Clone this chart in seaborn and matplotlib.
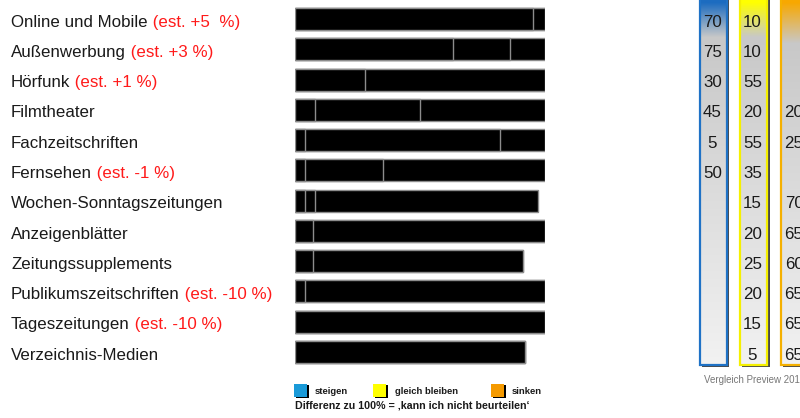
import numpy as np
import pandas as pd
import matplotlib
matplotlib.use("Agg")
import matplotlib.pyplot as plt
import seaborn as sns
from matplotlib.patches import Rectangle
from matplotlib.colors import to_rgb
from matplotlib.transforms import blended_transform_factory

# ---------------- data ----------------
media = ["Online und Mobile", "Außenwerbung", "Hörfunk", "Filmtheater",
         "Fachzeitschriften", "Fernsehen", "Wochen-Sonntagszeitungen",
         "Anzeigenblätter", "Zeitungssupplements", "Publikumszeitschriften",
         "Tageszeitungen", "Verzeichnis-Medien"]
estimates = ["(est. +5  %)", "(est. +3 %)", "(est. +1 %)", "", "", "(est. -1 %)",
             "", "", "", "(est. -10 %)", "(est. -10 %)", ""]
# stacked bar segments (percent)
seg1 = [95, 63, 28, 8, 4, 4, 4, 7, 7, 4, 100, 92]
seg2 = [5, 23, 72, 42, 78, 31, 4, 93, 84, 96, 0, 0]
seg3 = [0, 14, 0, 50, 18, 65, 89, 0, 0, 0, 0, 0]
# comparison table
steigen = [70, 75, 30, 45, 5, 50, None, None, None, None, None, None]
gleich = [10, 10, 55, 20, 55, 35, 15, 20, 25, 20, 15, 5]
sinken = [None, None, None, 20, 25, None, 70, 65, 60, 65, 65, 65]

# ---------------- style ----------------
sns.set_theme(style="white")
plt.rcParams["font.family"] = ["Liberation Sans", "DejaVu Sans"]

W, H = 800, 418
FS = 12.2
fig = plt.figure(figsize=(W / 100, H / 100), dpi=100)

ov = fig.add_axes([0, 0, 1, 1])
ov.set_xlim(0, W)
ov.set_ylim(H, 0)
ov.axis("off")

top_px, bot_px = 3.86, 367.1
ax = fig.add_axes([295 / W, 1 - bot_px / H, 250 / W, (bot_px - top_px) / H])
ax.patch.set_alpha(0)

df = pd.DataFrame({"medium": media, "s1": seg1, "s2": seg2, "s3": seg3})
df["c1"] = df["s1"]
df["c2"] = df["s1"] + df["s2"]
df["c3"] = df["s1"] + df["s2"] + df["s3"]

for col in ["c3", "c2", "c1"]:
    sns.barplot(data=df, x=col, y="medium", orient="h", color="black",
                saturation=1, edgecolor="#8c8c8c", linewidth=1.0,
                width=0.727, errorbar=None, ax=ax)
ax.set_xlim(0, 100)
ax.set_ylim(11.5, -0.5)
ax.axis("off")

# ---------------- labels ----------------
lab_tr = blended_transform_factory(fig.transFigure, ax.transData)
base_off = 0.254
name_texts = []
for i, name in enumerate(media):
    t = fig.text(11 / W, i + base_off, name, transform=lab_tr, ha="left",
                 va="baseline", fontsize=FS, color="#1a1a1a")
    name_texts.append(t)
fig.canvas.draw()
renderer = fig.canvas.get_renderer()
for i, (t, est) in enumerate(zip(name_texts, estimates)):
    if est:
        bb = t.get_window_extent(renderer)
        fig.text(bb.x1 / W, i + base_off, " " + est, transform=lab_tr,
                 ha="left", va="baseline", fontsize=FS, color="#ff1a1a")

# ---------------- comparison table ----------------
col_bot = 364.5
gray_mid = np.array(to_rgb("#c8c8c8"))
gray_end = np.array(to_rgb("#f2f2f2"))


def grad_column(x0, x1, top_color, edge_color, fade_to):
    n = int(col_bot)
    arr = np.zeros((n, 1, 3))
    tc = np.array(to_rgb(top_color))
    for y in range(n):
        if y < fade_to:
            f = max(0.0, (y - 8) / (fade_to - 8))
            arr[y, 0] = tc * (1 - f) + gray_mid * f
        else:
            f = (y - fade_to) / (n - fade_to)
            arr[y, 0] = gray_mid * (1 - f) + gray_end * f
    ov.add_patch(Rectangle((x0 + 2.5, -5), x1 - x0, col_bot + 7, facecolor="#4a4a4a",
                           edgecolor="none", zorder=1))
    ov.imshow(arr, extent=[x0, x1, col_bot, -5], aspect="auto", zorder=2,
              interpolation="bilinear")
    ov.add_patch(Rectangle((x0, -5), x1 - x0, col_bot + 5, facecolor="none",
                           edgecolor=edge_color, lw=1.6, zorder=3))


grad_column(699.5, 726.8, "#1c6cc0", "#1f72c6", 42)
grad_column(739.5, 767.3, "#ffff00", "#f5f000", 42)
grad_column(780.5, 808.0, "#f8a800", "#f5b000", 48)

tab_tr = blended_transform_factory(ov.transData, ax.transData)
for xc, vals in [(712.5, steigen), (752.5, gleich), (794.0, sinken)]:
    for i, v in enumerate(vals):
        if v is not None:
            ov.text(xc, i + base_off, str(v), transform=tab_tr, ha="center",
                    va="baseline", fontsize=FS, color="#1a1a1a", zorder=5)

ov.text(704, 380, "Vergleich Preview 2013", ha="left", va="center",
        fontsize=7, color="#777777", zorder=5)

# ---------------- legend ----------------
leg = [(293.5, "#1a9ad8", "steigen", 315),
       (372.5, "#ffff00", "gleich bleiben", 395),
       (490.5, "#f59a00", "sinken", 512)]
for x0, c, lbl, tx in leg:
    ov.add_patch(Rectangle((x0 + 2.5, 384.5), 13, 13, facecolor="black",
                           edgecolor="none", zorder=4))
    ov.add_patch(Rectangle((x0, 384), 13, 13, facecolor=c, edgecolor="none",
                           zorder=5))
    ov.text(tx, 391.5, lbl, ha="left", va="center", fontsize=6.8,
            fontweight="bold", color="#1a1a1a", zorder=5)
ov.text(295, 405.5, "Differenz zu 100% = \u201akann ich nicht beurteilen\u2018",
        ha="left", va="center", fontsize=7.7, fontweight="bold",
        color="#1a1a1a", zorder=5)

fig.savefig("out.png", dpi=100)
